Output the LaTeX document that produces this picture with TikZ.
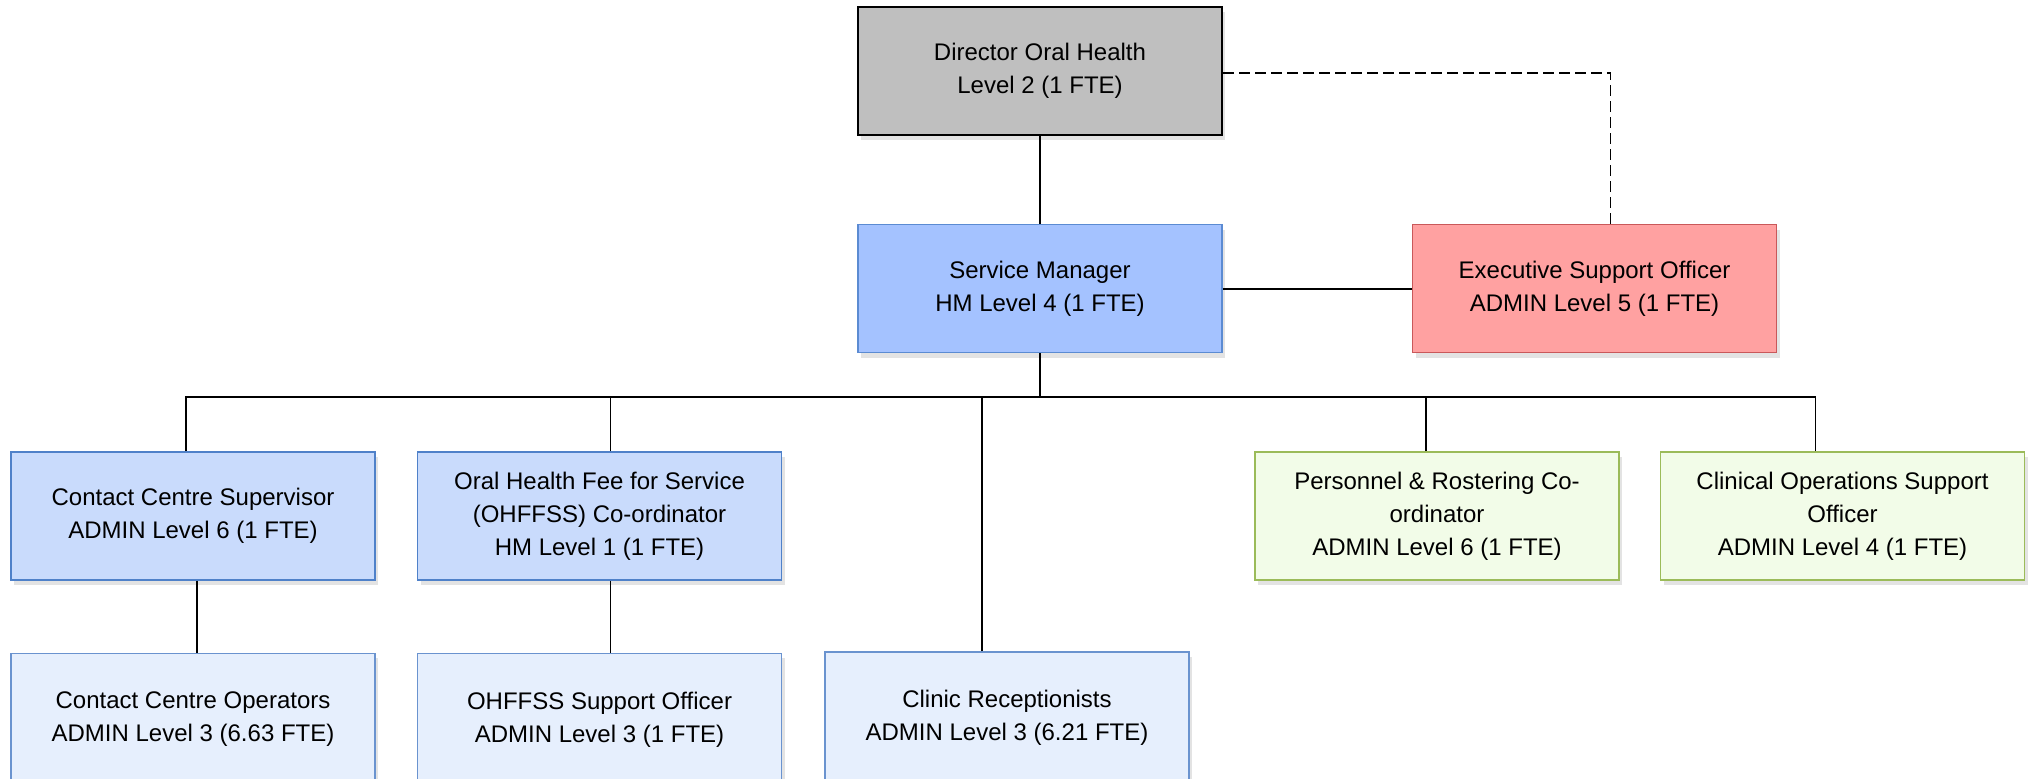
\documentclass[tikz,border=0pt]{standalone}
\usepackage{fontspec}
\setmainfont{Liberation Sans}
\usepackage{tikz}
\usetikzlibrary{positioning,shadows}

\definecolor{dirfill}{HTML}{BFBFBF}
\definecolor{mgrfill}{HTML}{A4C2FF}
\definecolor{mgrdraw}{HTML}{5B8BD2}
\definecolor{execfill}{HTML}{FFA1A1}
\definecolor{execdraw}{HTML}{C9585A}
\definecolor{supfill}{HTML}{C9DBFC}
\definecolor{supdraw}{HTML}{4F81C9}
\definecolor{opfill}{HTML}{E6EFFD}
\definecolor{opdraw}{HTML}{6A93CF}
\definecolor{admfill}{HTML}{F2FCE8}
\definecolor{admdraw}{HTML}{9BBB59}

\begin{document}
\begin{tikzpicture}[x=0.5pt,y=-0.5pt,font=\fontsize{12}{16.5}\selectfont]
    % one box per position, sizes taken from the chart
    \tikzstyle{post}=[rectangle,align=center,minimum width=182pt,minimum height=64pt,
    inner sep=2pt,line width=0.75pt,drop shadow={opacity=0.22,shadow xshift=1.5pt,shadow yshift=-2.5pt}]
    \tikzstyle{director}=[post,draw=black,line width=1pt,fill=dirfill]
    \tikzstyle{manager}=[post,draw=mgrdraw,fill=mgrfill]
    \tikzstyle{exec}=[post,draw=execdraw,fill=execfill]
    \tikzstyle{super}=[post,draw=supdraw,fill=supfill]
    \tikzstyle{operator}=[post,draw=opdraw,fill=opfill,minimum height=66pt]
    \tikzstyle{admin}=[post,draw=admdraw,fill=admfill]
    \tikzstyle{link}=[line width=0.8pt]
    \tikzstyle{dotted link}=[line width=0.8pt,dash pattern=on 5.5pt off 2.5pt]

    \useasboundingbox (0,0) rectangle (2034,779);

    \node [director] (dir) at (1040,71) {Director Oral Health\\Level 2 (1 FTE)};
    \node [manager] (sm) [below=44pt of dir] {Service Manager\\HM Level 4 (1 FTE)};
    \node [exec] (exec) [right=94.5pt of sm] {Executive Support Officer\\ADMIN Level 5 (1 FTE)};

    \node [super] (ccs) at (193,516) {Contact Centre Supervisor\\ADMIN Level 6 (1 FTE)};
    \node [super] (ohc) [right=20.5pt of ccs] {Oral Health Fee for Service\\(OHFFSS) Co-ordinator\\HM Level 1 (1 FTE)};
    \node [admin] (pers) at (1437,516) {Personnel \& Rostering Co-\\ordinator\\ADMIN Level 6 (1 FTE)};
    \node [admin] (clin) [right=20pt of pers] {Clinical Operations Support\\Officer\\ADMIN Level 4 (1 FTE)};

    \node [operator] (cco) [below=36pt of ccs] {Contact Centre Operators\\ADMIN Level 3 (6.63 FTE)};
    \node [operator] (ohso) [below=36pt of ohc] {OHFFSS Support Officer\\ADMIN Level 3 (1 FTE)};
    \node [operator] (rec) at (1007,718) {Clinic Receptionists\\ADMIN Level 3 (6.21 FTE)};

    \coordinate (bus) at (1040,397);

    \path (dir) edge [link] (sm);
    \path (sm) edge [link] (exec);
    \draw [dotted link] ([yshift=-1pt]dir.east) -| ([xshift=8pt]exec.north);

    \draw [link] (sm) -- (sm |- bus);
    \draw [link] ([xshift=-3.5pt]ccs.north) |- (bus);
    \draw [link] ([xshift=5.5pt]ohc.north) |- (bus);
    \draw [link] ([xshift=-12.5pt]rec.north) |- (bus);
    \draw [link] ([xshift=-5.5pt]pers.north) |- (bus);
    \draw [link] ([xshift=-13.5pt]clin.north) |- (bus);

    \draw [link] ([xshift=2pt]ccs.south) -- ([xshift=2pt]cco.north);
    \draw [link] ([xshift=5.5pt]ohc.south) -- ([xshift=5.5pt]ohso.north);

  \end{tikzpicture}
\end{document}
